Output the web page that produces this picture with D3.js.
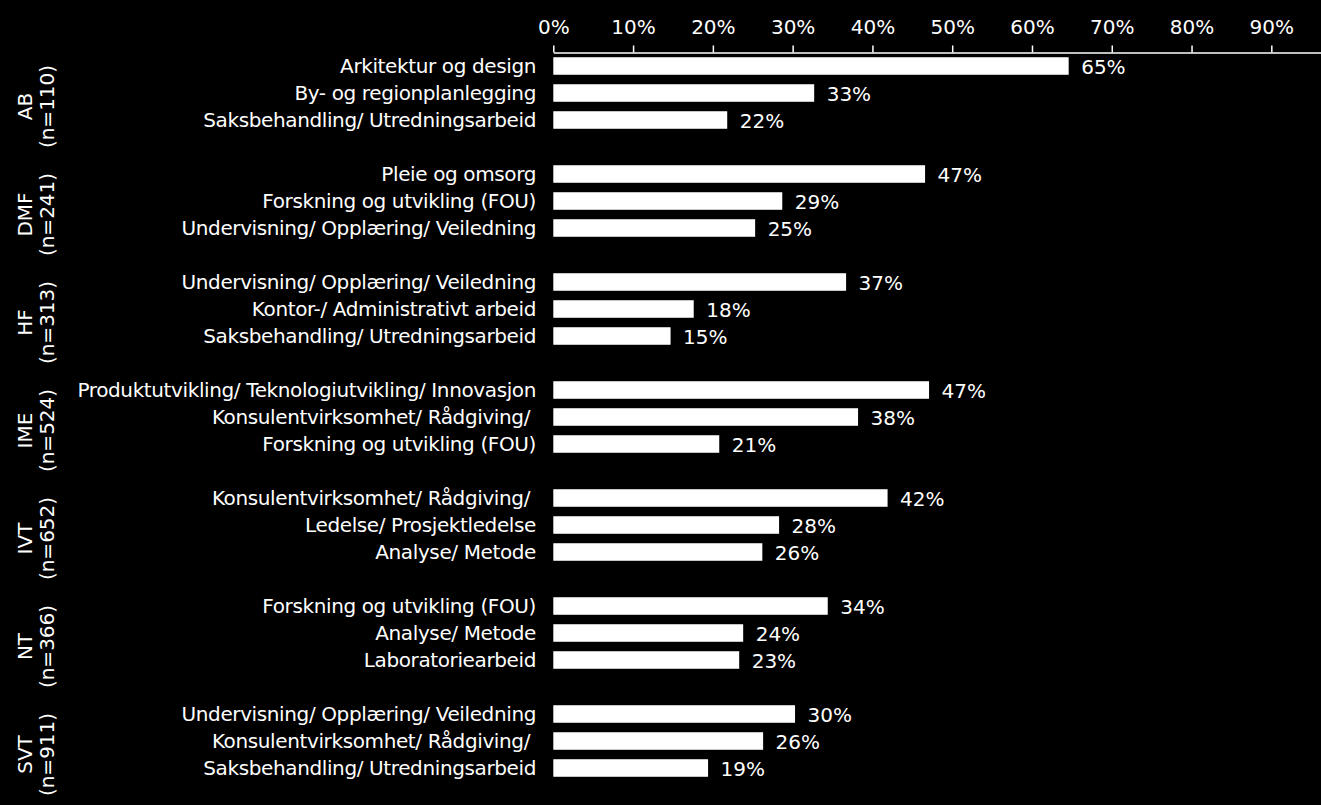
<!DOCTYPE html>
<html>
<head>
<meta charset="utf-8">
<script src="https://cdn.jsdelivr.net/npm/d3@7"></script>
<style>
  html, body { margin: 0; padding: 0; background: #000; }
  svg { display: block; background: #000; }
  text { font-family: "DejaVu Sans", Verdana, sans-serif; fill: #fff; }
</style>
</head>
<body>
<svg id="chart" width="1321" height="805"></svg>
<script>
// ---- data ----
const groups = ["AB", "DMF", "HF", "IME", "IVT", "NT", "SVT"];
const groupSizes = ["(n=110)", "(n=241)", "(n=313)", "(n=524)", "(n=652)", "(n=366)", "(n=911)"];
const categoriesAB  = ["Arkitektur og design", "By- og regionplanlegging", "Saksbehandling/ Utredningsarbeid"];
const categoriesDMF = ["Pleie og omsorg", "Forskning og utvikling (FOU)", "Undervisning/ Opplæring/ Veiledning"];
const categoriesHF  = ["Undervisning/ Opplæring/ Veiledning", "Kontor-/ Administrativt arbeid", "Saksbehandling/ Utredningsarbeid"];
const categoriesIME = ["Produktutvikling/ Teknologiutvikling/ Innovasjon", "Konsulentvirksomhet/ Rådgiving/ ", "Forskning og utvikling (FOU)"];
const categoriesIVT = ["Konsulentvirksomhet/ Rådgiving/ ", "Ledelse/ Prosjektledelse", "Analyse/ Metode"];
const categoriesNT  = ["Forskning og utvikling (FOU)", "Analyse/ Metode", "Laboratoriearbeid"];
const categoriesSVT = ["Undervisning/ Opplæring/ Veiledning", "Konsulentvirksomhet/ Rådgiving/ ", "Saksbehandling/ Utredningsarbeid"];
const valuesAB  = [64.6, 32.7, 21.8];
const valuesDMF = [46.6, 28.7, 25.3];
const valuesHF  = [36.7, 17.6, 14.7];
const valuesIME = [47.1, 38.2, 20.8];
const valuesIVT = [41.9, 28.3, 26.2];
const valuesNT  = [34.4, 23.8, 23.3];
const valuesSVT = [30.3, 26.3, 19.4];
const tickValues = [0, 10, 20, 30, 40, 50, 60, 70, 80, 90];

const categories = [categoriesAB, categoriesDMF, categoriesHF, categoriesIME, categoriesIVT, categoriesNT, categoriesSVT];
const values = [valuesAB, valuesDMF, valuesHF, valuesIME, valuesIVT, valuesNT, valuesSVT];

// ---- build rows ----
const rows = [];
const slots = [];
groups.forEach((g, gi) => {
  categories[gi].forEach((c, ci) => {
    const key = g + "|" + ci;
    rows.push({ key, group: g, category: c, value: values[gi][ci] });
    slots.push(key);
  });
  slots.push(g + "|gap");
});

const svg = d3.select("#chart");

const x = d3.scaleLinear().domain([0, 100]).range([553.3, 1351.1]);
const y = d3.scaleBand().domain(slots).range([52.5, 52.5 + slots.length * 27])
  .paddingInner(0.35).paddingOuter(0.175);
const yg = d3.scaleBand().domain(groups).range([52.5, 52.5 + slots.length * 27]);

// ---- axis ----
const axis = svg.append("g")
  .attr("transform", "translate(0,52.5)")
  .call(d3.axisTop(x).tickValues(tickValues).tickFormat(d => d + "%").tickSize(7).tickPadding(12).tickSizeOuter(0));
axis.selectAll("path, line").attr("stroke", "#fff").attr("stroke-width", 1.5);
axis.selectAll("text").attr("fill", "#fff").style("font-size", "20px")
  .style("font-family", "'DejaVu Sans', Verdana, sans-serif");

// ---- bars ----
svg.append("g").selectAll("rect").data(rows).join("rect")
  .attr("x", x(0))
  .attr("y", d => y(d.key))
  .attr("width", d => x(d.value) - x(0))
  .attr("height", y.bandwidth())
  .attr("fill", "#fff");

// ---- value labels ----
svg.append("g").selectAll("text").data(rows).join("text")
  .attr("x", d => x(d.value) + 12.5)
  .attr("y", d => y(d.key) + y.bandwidth() / 2)
  .attr("dy", "0.38em")
  .style("font-size", "20px")
  .text(d => Math.round(d.value) + "%");

// ---- category labels ----
svg.append("g").selectAll("text").data(rows).join("text")
  .attr("x", 536)
  .attr("y", d => y(d.key) + y.bandwidth() / 2)
  .attr("dy", "0.36em")
  .attr("text-anchor", "end")
  .attr("xml:space", "preserve")
  .style("white-space", "pre")
  .style("font-size", "20px")
  .style("letter-spacing", "-0.38px")
  .text(d => d.category);

// ---- group labels ----
const gl = svg.append("g");
groups.forEach((g, gi) => {
  const cy = yg(g) + yg.bandwidth() / 2;
  gl.append("text")
    .attr("transform", `translate(31.8,${cy}) rotate(-90)`)
    .attr("text-anchor", "middle")
    .style("font-size", "20px")
    .text(g);
  gl.append("text")
    .attr("transform", `translate(54.4,${cy}) rotate(-90)`)
    .attr("text-anchor", "middle")
    .style("font-size", "20px")
    .text(groupSizes[gi]);
});
</script>
</body>
</html>
